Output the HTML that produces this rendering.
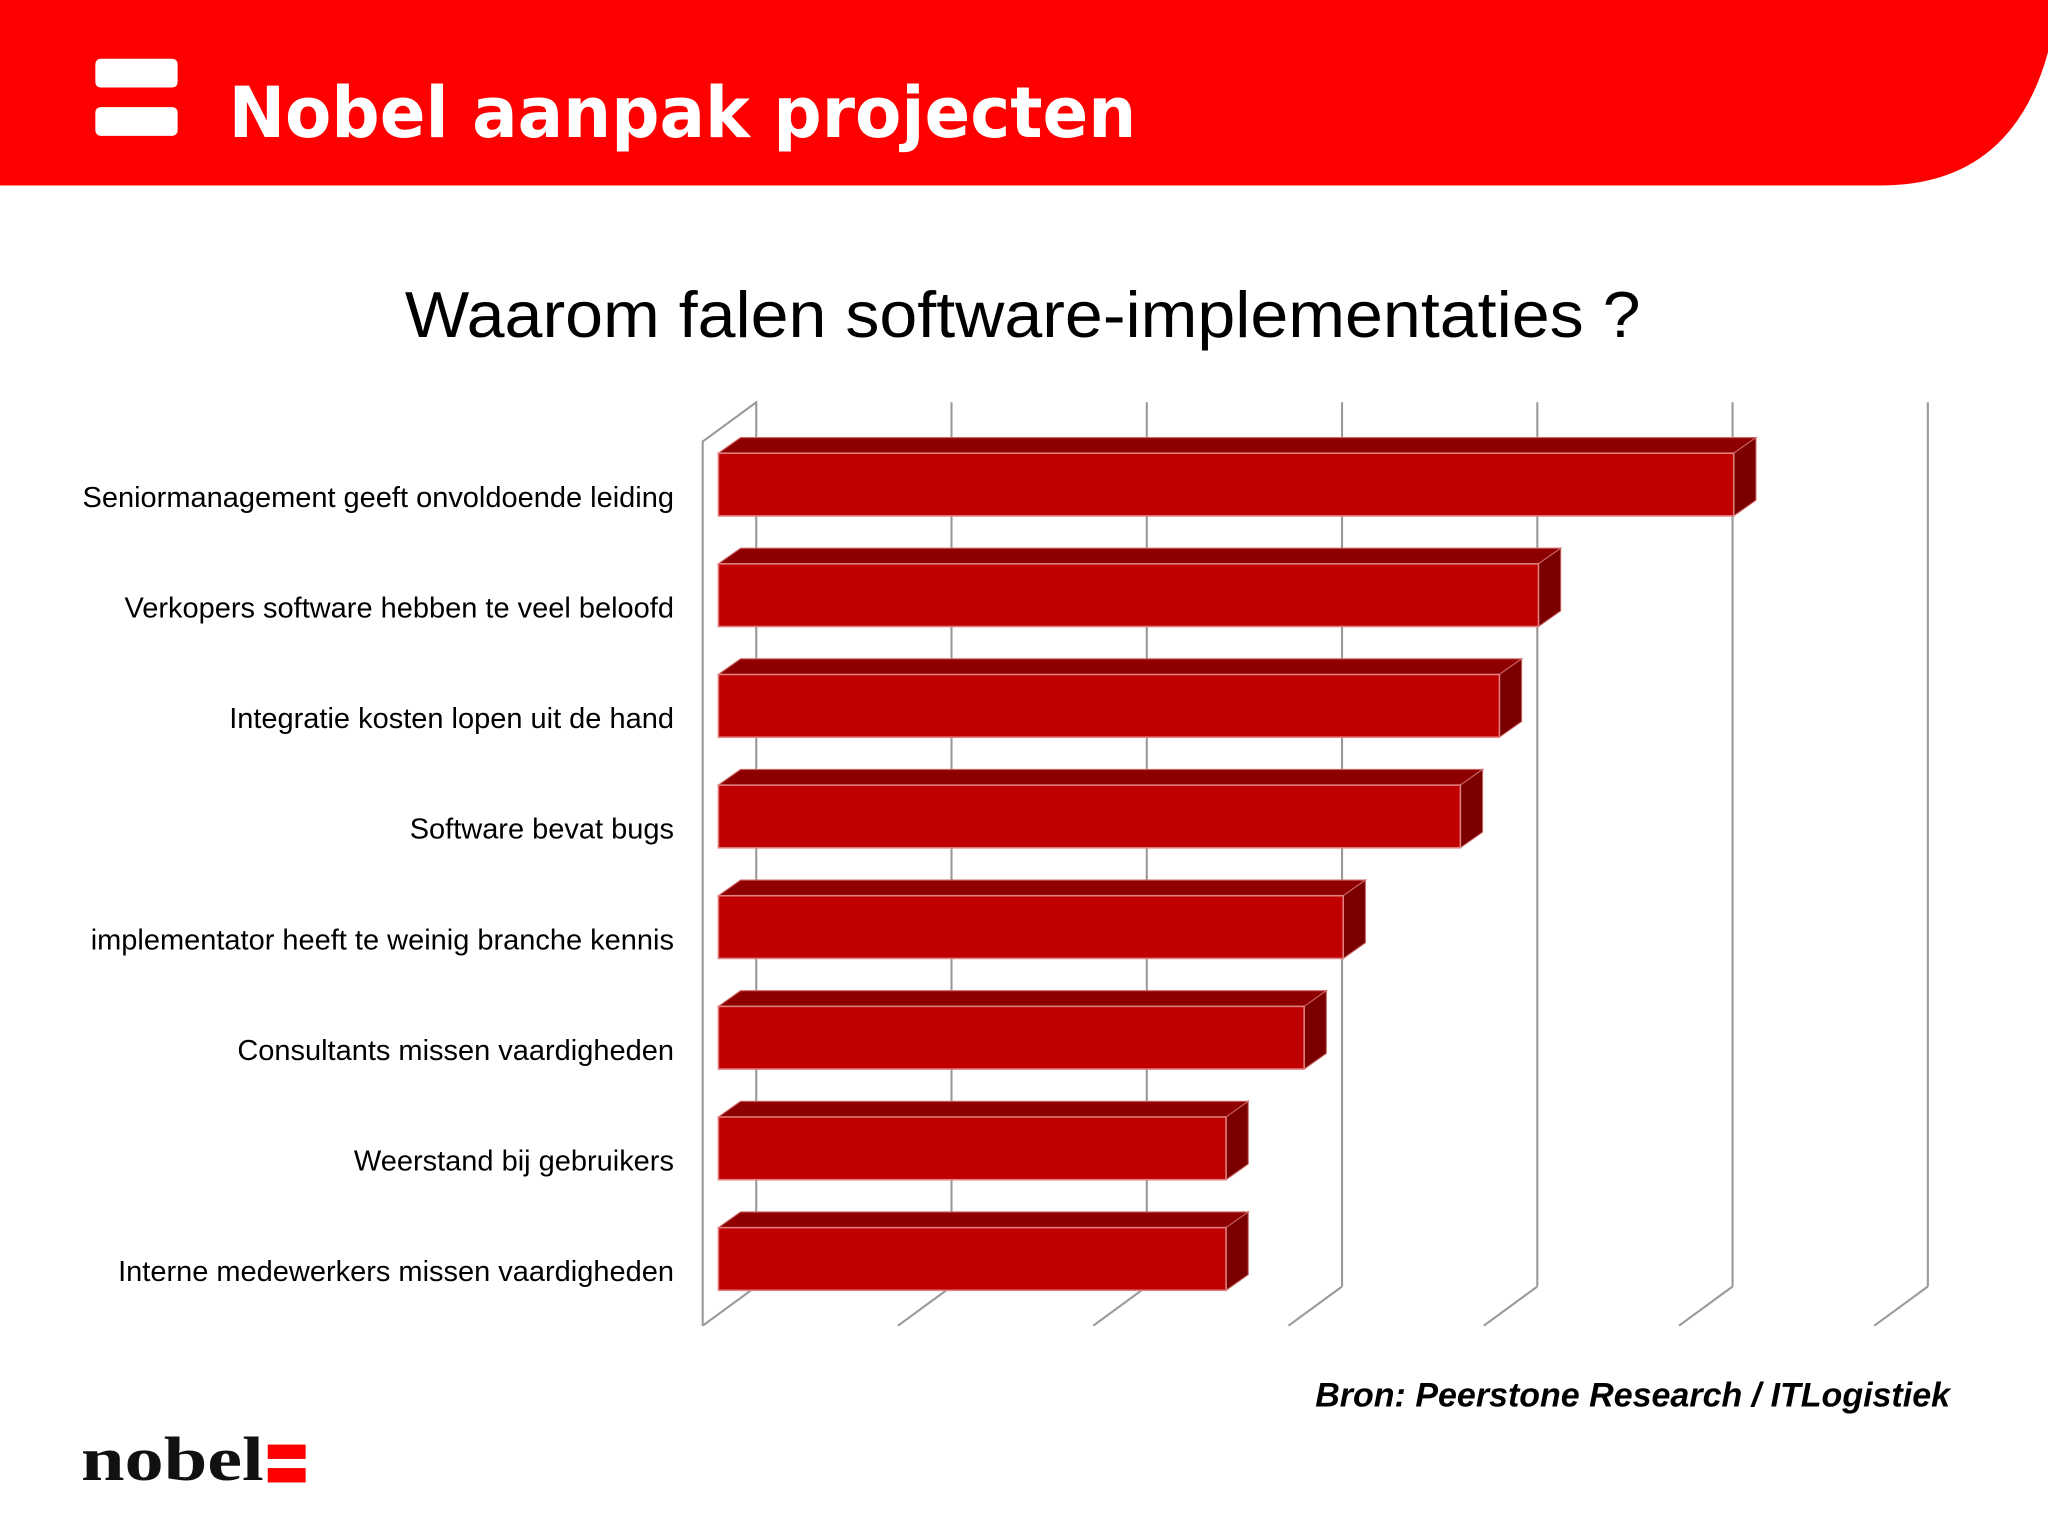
<!DOCTYPE html>
<html><head><meta charset="utf-8"><style>html,body{margin:0;padding:0;background:#fff}svg{display:block}</style></head>
<body>
<svg id="c" width="2048" height="1536" viewBox="0 0 1568 1176" xmlns="http://www.w3.org/2000/svg" font-family="Liberation Sans, sans-serif">
<path d="M0 0 H1568 V40 Q1540 142 1440 142 H0 Z" fill="#ff0000"/>
<rect x="73" y="45" width="63" height="22" rx="4" fill="#fff"/>
<rect x="73" y="82" width="63" height="22" rx="4" fill="#fff"/>
<text x="175" y="105" font-size="54" font-weight="bold" fill="#fff" font-family="DejaVu Sans, sans-serif" textLength="695" lengthAdjust="spacingAndGlyphs">Nobel aanpak projecten</text>
<text x="783" y="258" font-size="50" text-anchor="middle" fill="#000" textLength="946" lengthAdjust="spacingAndGlyphs">Waarom falen software-implementaties ?</text>
<g id="grid"></g>
<g id="bars"></g>
<g id="labels" font-size="22.2" fill="#000"></g>
<text x="1493" y="1077" font-size="26" font-weight="bold" font-style="italic" text-anchor="end" fill="#000" textLength="486" lengthAdjust="spacingAndGlyphs">Bron: Peerstone Research / ITLogistiek</text>
<text x="62" y="1133" font-size="48" font-weight="bold" fill="#111" font-family="Liberation Serif, serif" textLength="140" lengthAdjust="spacingAndGlyphs">nobel</text>
<rect x="205" y="1106" width="29" height="11" fill="#ff0000"/>
<rect x="205" y="1124" width="29" height="11" fill="#ff0000"/>
</svg>
<script>
const categories=["Seniormanagement geeft onvoldoende leiding","Verkopers software hebben te veel beloofd","Integratie kosten lopen uit de hand","Software bevat bugs","implementator heeft te weinig branche kennis","Consultants missen vaardigheden","Weerstand bij gebruikers","Interne medewerkers missen vaardigheden"];
const values=[52,42,40,38,32,30,26,26];
const ticks=[0,10,20,30,40,50,60];
const NS="http://www.w3.org/2000/svg";
const x0=550,unit=14.95,frontX=538,depthX=41,depthY=-30,wallTop=338,wallBottom=1015;
const xs=v=>x0+v*unit;
const bandTop=347,pitch=84.7,barH=48,bdx=17,bdy=-12;
function mk(tag,attrs,parent){const e=document.createElementNS(NS,tag);for(const k in attrs)e.setAttribute(k,attrs[k]);parent.appendChild(e);return e;}
const grid=document.getElementById('grid'),bars=document.getElementById('bars'),labels=document.getElementById('labels');
const w=mk('path',{d:`M${frontX} ${wallBottom} V${wallTop} L${frontX+depthX} ${wallTop+depthY} V${wallBottom+depthY}`,fill:'none',stroke:'#999','stroke-width':1.6},grid);


ticks.forEach((t,i)=>{
  const bx=xs(t)-x0+frontX+depthX, fx=bx-depthX;
  const g=mk('path',{d:(i>0?`M${bx} ${wallTop+depthY} V${wallBottom+depthY} `:'')+`M${bx} ${wallBottom+depthY} L${fx} ${wallBottom}`,fill:'none',stroke:'#999','stroke-width':1.6},grid);
  
  
});
values.forEach((v,i)=>{
  const y=bandTop+i*pitch, xe=xs(v);
  const g=mk('g',{},bars);
  
  
  mk('polygon',{points:`${x0},${y} ${x0+bdx},${y+bdy} ${xe+bdx},${y+bdy} ${xe},${y}`,fill:'#8e0000',stroke:'#c66','stroke-width':0.8},g);
  mk('polygon',{points:`${xe},${y} ${xe+bdx},${y+bdy} ${xe+bdx},${y+barH+bdy} ${xe},${y+barH}`,fill:'#7a0000',stroke:'#c66','stroke-width':0.8},g);
  mk('rect',{x:x0,y:y,width:xe-x0,height:barH,fill:'#c00000',stroke:'#e08080','stroke-width':1.2},g);
  const t=mk('text',{x:516,y:y+barH/2+17,'text-anchor':'end'},labels);
  t.textContent=categories[i];
  
  
});
</script>
</body></html>
